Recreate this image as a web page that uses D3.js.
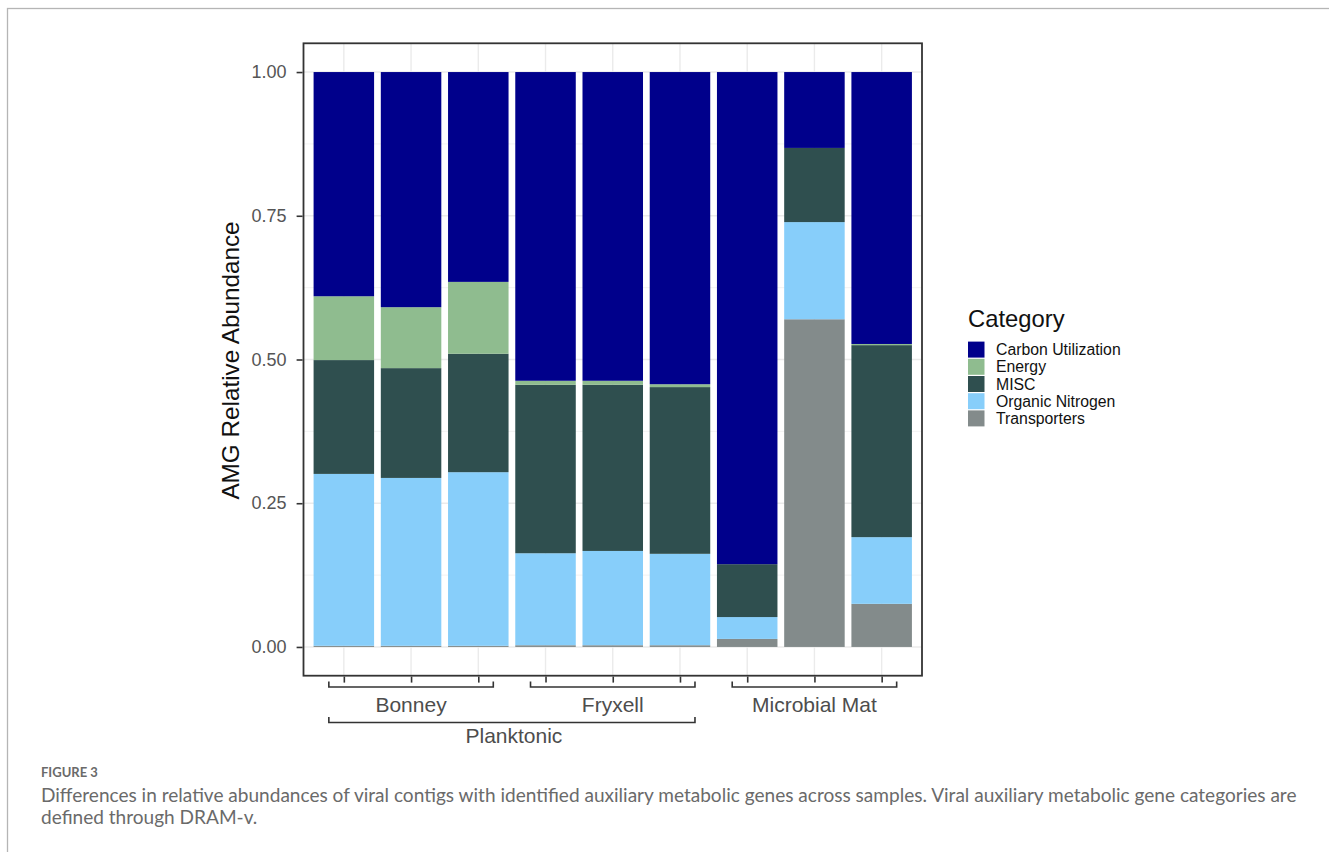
<!DOCTYPE html>
<html>
<head>
<meta charset="utf-8">
<script src="https://cdn.jsdelivr.net/npm/d3@7"></script>
<style>
  html, body { margin: 0; padding: 0; background: #fff; }
  svg { display: block; }
</style>
</head>
<body>
<svg id="fig" width="1329" height="852"></svg>
<script>
// Samples along the x axis, with their lake / habitat grouping
const samples = ["B1", "B2", "B3", "F1", "F2", "F3", "M1", "M2", "M3"];
const lakeOf = ["Bonney", "Bonney", "Bonney", "Fryxell", "Fryxell", "Fryxell", "Microbial Mat", "Microbial Mat", "Microbial Mat"];
const lakes = ["Bonney", "Fryxell", "Microbial Mat"];
const habitats = ["Planktonic"];
const habitatLakes = [["Bonney", "Fryxell"]];

// AMG category shares per sample
const categories = ["Carbon Utilization", "Energy", "MISC", "Organic Nitrogen", "Transporters"];
const carbonUtilization = [0.390, 0.409, 0.365, 0.537, 0.537, 0.543, 0.856, 0.132, 0.473];
const energy            = [0.111, 0.106, 0.125, 0.007, 0.007, 0.005, 0.000, 0.000, 0.002];
const misc              = [0.198, 0.191, 0.206, 0.293, 0.289, 0.290, 0.092, 0.129, 0.334];
const organicNitrogen   = [0.299, 0.292, 0.302, 0.160, 0.164, 0.159, 0.038, 0.169, 0.116];
const transporters      = [0.002, 0.002, 0.002, 0.003, 0.003, 0.003, 0.014, 0.570, 0.075];

const yTicks = [0, 0.25, 0.5, 0.75, 1];
const yMinor = [0.125, 0.375, 0.625, 0.875];

const colors = ["#00008B", "#8FBC8F", "#2F4F4F", "#87CEFA", "#838B8B"];

const rows = samples.map((s, i) => ({
  sample: s,
  "Carbon Utilization": carbonUtilization[i],
  "Energy": energy[i],
  "MISC": misc[i],
  "Organic Nitrogen": organicNitrogen[i],
  "Transporters": transporters[i]
}));

const svg = d3.select("#fig");
const font = "'Liberation Sans', Arial, Helvetica, sans-serif";

// outer figure frame
svg.append("rect")
  .attr("x", 7.5).attr("y", 8.5).attr("width", 1340).attr("height", 860)
  .attr("fill", "none").attr("stroke", "#b5b5b5").attr("stroke-width", 1.3);

const panel = { left: 303.5, right: 922, top: 43.3, bottom: 675.7 };

// ggplot-style discrete expansion: 0.6 units on each side
const xPos = d3.scaleLinear().domain([0.4, samples.length + 0.6]).range([panel.left, panel.right]);
const xc = s => xPos(samples.indexOf(s) + 1);
const unit = xPos(2) - xPos(1);
const barW = unit * 0.9;

const y = d3.scaleLinear().domain([-0.05, 1.05]).range([panel.bottom, panel.top]);
const color = d3.scaleOrdinal().domain(categories).range(colors);

// grid
const grid = svg.append("g");
grid.selectAll(".ymin").data(yMinor).join("line")
  .attr("x1", panel.left).attr("x2", panel.right)
  .attr("y1", d => y(d)).attr("y2", d => y(d))
  .attr("stroke", "#f0f0f0").attr("stroke-width", 0.9);
grid.selectAll(".ymaj").data(yTicks).join("line")
  .attr("x1", panel.left).attr("x2", panel.right)
  .attr("y1", d => y(d)).attr("y2", d => y(d))
  .attr("stroke", "#ebebeb").attr("stroke-width", 1.4);
grid.selectAll(".xmaj").data(samples).join("line")
  .attr("x1", d => xc(d)).attr("x2", d => xc(d))
  .attr("y1", panel.top).attr("y2", panel.bottom)
  .attr("stroke", "#ebebeb").attr("stroke-width", 1.4);

// stacked bars, bottom-up: Transporters ... Carbon Utilization
const stackKeys = categories.slice().reverse();
const series = d3.stack().keys(stackKeys).offset(d3.stackOffsetExpand)(rows);

svg.append("g").selectAll("g").data(series).join("g")
  .attr("fill", d => color(d.key))
  .selectAll("rect").data(d => d).join("rect")
  .attr("x", d => xc(d.data.sample) - barW / 2)
  .attr("width", barW)
  .attr("y", d => y(d[1]))
  .attr("height", d => Math.max(0, y(d[0]) - y(d[1])));

// panel border
svg.append("rect")
  .attr("x", panel.left).attr("y", panel.top)
  .attr("width", panel.right - panel.left).attr("height", panel.bottom - panel.top)
  .attr("fill", "none").attr("stroke", "#333").attr("stroke-width", 1.8);

// y axis
const yAxis = d3.axisLeft(y).tickValues(yTicks).tickFormat(d3.format(".2f")).tickSize(6).tickPadding(10);
const gy = svg.append("g").attr("transform", `translate(${panel.left - 0.9},0)`).call(yAxis);
gy.select(".domain").remove();
gy.selectAll(".tick line").attr("stroke", "#333").attr("stroke-width", 1.6);
gy.selectAll(".tick text").attr("fill", "#555").attr("font-family", font).attr("font-size", 18);

svg.append("text")
  .attr("transform", `translate(239,${(panel.top + panel.bottom) / 2 + 1}) rotate(-90)`)
  .attr("text-anchor", "middle")
  .attr("font-family", font).attr("font-size", 24.3).attr("fill", "#111")
  .text("AMG Relative Abundance");

// x axis ticks (no labels for individual samples)
const xAxis = d3.axisBottom(xPos).tickValues(samples.map((s, i) => i + 1)).tickFormat("").tickSize(6);
const gx = svg.append("g").attr("transform", `translate(0,${panel.bottom + 0.9})`).call(xAxis);
gx.select(".domain").remove();
gx.selectAll(".tick line").attr("stroke", "#333").attr("stroke-width", 1.6);

// nested group brackets
const br = svg.append("g").attr("fill", "none").attr("stroke", "#333").attr("stroke-width", 1.6);
const pad = 15;
function bracket(x0, x1, yy, rise) {
  br.append("path").attr("d", `M${x0},${yy - rise}V${yy}H${x1}V${yy - rise}`);
}
lakes.forEach(lk => {
  const idx = samples.filter((s, i) => lakeOf[i] === lk);
  const x0 = xc(idx[0]) - pad, x1 = xc(idx[idx.length - 1]) + pad;
  bracket(x0, x1, 687, 5.5);
  svg.append("text")
    .attr("x", (x0 + x1) / 2).attr("y", 711.5)
    .attr("text-anchor", "middle")
    .attr("font-family", font).attr("font-size", 21).attr("fill", "#4d4d4d")
    .text(lk);
});
habitats.forEach((h, k) => {
  const members = samples.filter((s, i) => habitatLakes[k].includes(lakeOf[i]));
  const x0 = xc(members[0]) - pad, x1 = xc(members[members.length - 1]) + pad;
  bracket(x0, x1, 722.5, 5.5);
  svg.append("text")
    .attr("x", (x0 + x1) / 2 + 2).attr("y", 742.5)
    .attr("text-anchor", "middle")
    .attr("font-family", font).attr("font-size", 21).attr("fill", "#4d4d4d")
    .text(h);
});

// legend
const lg = svg.append("g").attr("transform", "translate(968,0)");
lg.append("text").attr("x", 0).attr("y", 326.5)
  .attr("font-family", font).attr("font-size", 23.8).attr("fill", "#111")
  .text("Category");
const keyH = 17.2;
categories.forEach((c, i) => {
  lg.append("rect").attr("x", 0).attr("y", 341 + i * keyH + 0.6)
    .attr("width", 16.5).attr("height", keyH - 1.2).attr("fill", color(c));
  lg.append("text").attr("x", 28).attr("y", 341 + i * keyH + keyH / 2 + 5.5)
    .attr("font-family", font).attr("font-size", 15.8).attr("fill", "#111")
    .text(c);
});

// figure caption
const capFont = "Lato, 'Open Sans', sans-serif";
svg.append("text").attr("x", 41).attr("y", 777)
  .attr("font-family", capFont).attr("font-size", 13).attr("font-weight", 700)
  .attr("fill", "#6a6a6a").text("FIGURE 3");
const capLines = [
  "Differences in relative abundances of viral contigs with identified auxiliary metabolic genes across samples. Viral auxiliary metabolic gene categories are",
  "defined through DRAM-v."
];
const capText = capLines.map((t, i) => svg.append("text")
  .attr("x", 41).attr("y", 801.5 + i * 22.5)
  .attr("font-family", capFont).attr("font-size", 17)
  .attr("fill", "#6a6a6a").text(t));
// size the caption so the first line spans the text block
const w0 = capText[0].node().getComputedTextLength();
const fs = 17 * 1256 / w0;
capText.forEach(t => t.attr("font-size", fs));
</script>
</body>
</html>
